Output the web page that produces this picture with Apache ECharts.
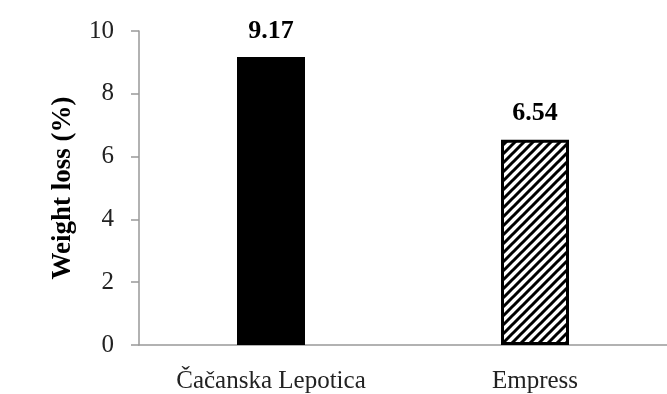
<!DOCTYPE html>
<html>
<head>
<meta charset="utf-8">
<script src="https://cdn.jsdelivr.net/npm/echarts@6/dist/echarts.min.js"></script>
<style>
  html, body { margin: 0; padding: 0; background: #fff; }
  #chart { width: 667px; height: 394px; }
</style>
</head>
<body>
<div id="chart"></div>
<script>
// ---------------------- Data ----------------------
let cultivars = ["Čačanska Lepotica", "Empress"];
let weight_loss = [9.17, 6.54];
let y_ticks = [0, 2, 4, 6, 8, 10];

// ------------------- Hatch pattern -------------------
let hatch = document.createElement("canvas");
hatch.width = 9;
hatch.height = 9;
let ctx = hatch.getContext("2d");
ctx.fillStyle = "#fff";
ctx.fillRect(0, 0, 9, 9);
ctx.strokeStyle = "#000";
ctx.lineWidth = 3;
ctx.beginPath();
ctx.moveTo(-2, 11); ctx.lineTo(11, -2);
ctx.moveTo(-2, 2); ctx.lineTo(2, -2);
ctx.moveTo(7, 11); ctx.lineTo(11, 7);
ctx.stroke();

let font_family = "'Liberation Serif', 'DejaVu Serif', serif";

let bar_data = weight_loss.map(function (v, i) {
    if (i === 0) {
        return { value: v, itemStyle: { color: "#000" } };
    }
    return {
        value: v,
        itemStyle: {
            color: { image: hatch, repeat: "repeat" },
            borderColor: "#000",
            borderWidth: 3
        }
    };
});

let chart = echarts.init(document.getElementById("chart"));
chart.setOption({
    backgroundColor: "#fff",
    animation: false,
    grid: { left: 139, right: -12, top: 31, bottom: 47 },
    xAxis: {
        type: "category",
        data: cultivars,
        axisLine: { lineStyle: { color: "#999", width: 1.5 } },
        axisTick: { show: false },
        axisLabel: {
            color: "#222",
            fontFamily: font_family,
            fontSize: 25,
            margin: 24
        }
    },
    yAxis: {
        type: "value",
        min: y_ticks[0],
        max: y_ticks[y_ticks.length - 1],
        interval: 2,
        splitLine: { show: false },
        axisLine: { show: true, lineStyle: { color: "#999", width: 1.5 } },
        axisTick: { show: true, length: 8, lineStyle: { color: "#999", width: 1.5 } },
        axisLabel: {
            color: "#222",
            fontFamily: font_family,
            fontSize: 25,
            margin: 25
        },
        name: "Weight loss (%)",
        nameLocation: "middle",
        nameGap: 62,
        nameTextStyle: {
            color: "#000",
            fontFamily: font_family,
            fontWeight: "bold",
            fontSize: 27
        }
    },
    series: [{
        type: "bar",
        data: bar_data,
        barWidth: 68,
        label: {
            show: true,
            position: "top",
            distance: 13,
            color: "#000",
            fontFamily: font_family,
            fontWeight: "bold",
            fontSize: 26,
            formatter: function (p) { return p.value.toFixed(2); }
        }
    }]
});
</script>
</body>
</html>
